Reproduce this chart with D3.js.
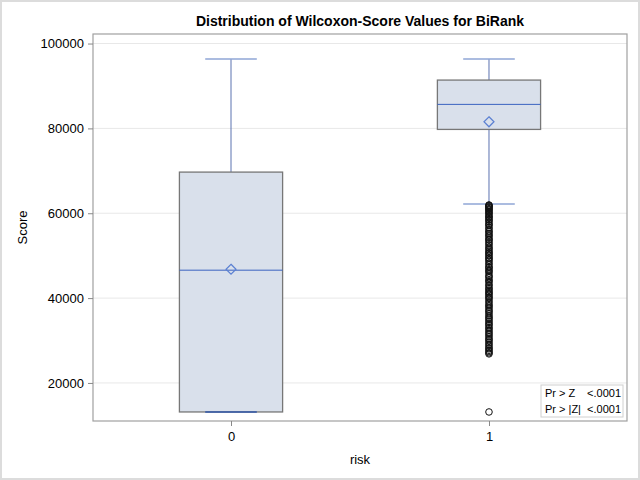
<!DOCTYPE html>
<html>
<head>
<meta charset="utf-8">
<script src="https://cdn.jsdelivr.net/npm/d3@7"></script>
<style>
  body { margin: 0; background: #fff; }
  text { font-family: "Liberation Sans", Arial, sans-serif; }
</style>
</head>
<body>
<div id="chart"></div>
<script>
// data
const categories = ["0", "1"];
const q1 = [13160, 79760];
const median = [46580, 85660];
const q3 = [69700, 91390];
const mean = [46800, 81560];
const whiskerLow = [13160, 62200];
const whiskerHigh = [96350, 96350];
const outliers1 = [
  61950, 61850, 61700, 61500, 61350, 61100, 60900, 60750, 60400, 60200,
  59950, 59700, 59300, 59150, 58900, 58500, 58350, 58000, 57600, 57300,
  57100, 56600, 56300, 55800, 55600, 55200, 54850, 54600, 54150, 53800,
  53650, 53200, 52850, 52500, 52000, 51750, 51400, 51050, 50700, 50550,
  50200, 49900, 49500, 49350, 49000, 48650, 48200, 47900, 47400, 47250,
  46900, 46500, 46300, 45900, 45350, 45100, 44800, 44300, 44050, 43700,
  43200, 42950, 42500, 42200, 41900, 41500, 41300, 41000, 40700, 40300,
  40100, 39750, 39300, 38900, 38450, 38150, 37800, 37400, 37000, 36750,
  36300, 35900, 35500, 35250, 34850, 34500, 34100, 33800, 33500, 33050,
  32800, 32400, 32000, 31650, 31300, 30900, 30500, 30200, 29900, 29450,
  29100, 28700, 28300, 28050, 27700, 27400, 27100, 26850, 13160
];
const yTicks = [20000, 40000, 60000, 80000, 100000];

const width = 640;
const height = 480;
const plot = { left: 93, right: 627, top: 34, bottom: 421 };

const svg = d3.select("#chart").append("svg").attr("width", width).attr("height", height);

// outer frame
svg.append("rect")
  .attr("x", 1).attr("y", 1).attr("width", width - 2).attr("height", height - 2)
  .attr("fill", "#fff").attr("stroke", "#dcdcdc").attr("stroke-width", 2);

const x = d3.scalePoint().domain(categories).range([plot.left, plot.right]).padding(0.535);
const y = d3.scaleLinear().domain([11030, 102250]).range([plot.bottom, plot.top]);
const boxW = x.step() * 0.4;

// gridlines
svg.append("g").selectAll("line").data(yTicks).enter().append("line")
  .attr("x1", plot.left).attr("x2", plot.right)
  .attr("y1", d => y(d)).attr("y2", d => y(d))
  .attr("stroke", "#e8e8e8").attr("stroke-width", 1);

const boxes = categories.map((c, i) => ({
  c, q1: q1[i], med: median[i], q3: q3[i], mean: mean[i], lo: whiskerLow[i], hi: whiskerHigh[i]
}));

const g = svg.append("g");

// whiskers
g.selectAll(".wh").data(boxes).enter().append("line")
  .attr("x1", d => x(d.c)).attr("x2", d => x(d.c))
  .attr("y1", d => y(d.hi)).attr("y2", d => y(d.q3))
  .attr("stroke", "#5b72b0").attr("stroke-width", 1);
g.selectAll(".wl").data(boxes).enter().append("line")
  .attr("x1", d => x(d.c)).attr("x2", d => x(d.c))
  .attr("y1", d => y(d.q1)).attr("y2", d => y(d.lo))
  .attr("stroke", "#5b72b0").attr("stroke-width", 1);

// boxes
g.selectAll(".box").data(boxes).enter().append("rect")
  .attr("x", d => x(d.c) - boxW / 2).attr("width", boxW)
  .attr("y", d => y(d.q3)).attr("height", d => y(d.q1) - y(d.q3))
  .attr("fill", "#d9e0eb").attr("stroke", "#777").attr("stroke-width", 1.3);

// caps
g.selectAll(".caph").data(boxes).enter().append("line")
  .attr("x1", d => x(d.c) - boxW / 4).attr("x2", d => x(d.c) + boxW / 4)
  .attr("y1", d => y(d.hi)).attr("y2", d => y(d.hi))
  .attr("stroke", "#8fa6d6").attr("stroke-width", 1.5);
g.selectAll(".capl").data(boxes).enter().append("line")
  .attr("x1", d => x(d.c) - boxW / 4).attr("x2", d => x(d.c) + boxW / 4)
  .attr("y1", d => y(d.lo)).attr("y2", d => y(d.lo))
  .attr("stroke", d => d.lo === d.q1 ? "#2f56a8" : "#8fa6d6").attr("stroke-width", 1.5);

// medians
g.selectAll(".med").data(boxes).enter().append("line")
  .attr("x1", d => x(d.c) - boxW / 2).attr("x2", d => x(d.c) + boxW / 2)
  .attr("y1", d => y(d.med)).attr("y2", d => y(d.med))
  .attr("stroke", "#3a62c0").attr("stroke-width", 1);

// means
g.selectAll(".mean").data(boxes).enter().append("path")
  .attr("transform", d => `translate(${x(d.c)},${y(d.mean)})`)
  .attr("d", "M0,-5L5,0L0,5L-5,0Z")
  .attr("fill", "none").attr("stroke", "#5b80d2").attr("stroke-width", 1.2);

// outliers
g.selectAll(".out").data(outliers1).enter().append("circle")
  .attr("cx", x("1")).attr("cy", d => y(d)).attr("r", 3.3)
  .attr("fill", "none").attr("stroke", "#111").attr("stroke-width", 1);

// plot frame
svg.append("rect")
  .attr("x", plot.left).attr("y", plot.top)
  .attr("width", plot.right - plot.left).attr("height", plot.bottom - plot.top)
  .attr("fill", "none").attr("stroke", "#a0a0a0").attr("stroke-width", 1.2);

// axes
const yAxis = svg.append("g").attr("transform", `translate(${plot.left},0)`)
  .call(d3.axisLeft(y).tickValues(yTicks).tickSize(5).tickPadding(4).tickFormat(d3.format("d")));
yAxis.select(".domain").remove();
yAxis.selectAll(".tick line").attr("stroke", "#888");
yAxis.selectAll(".tick text").attr("fill", "#000").style("font-size", "13px");

const xAxis = svg.append("g").attr("transform", `translate(0,${plot.bottom})`)
  .call(d3.axisBottom(x).tickSize(5).tickPadding(6));
xAxis.select(".domain").remove();
xAxis.selectAll(".tick line").attr("stroke", "#888");
xAxis.selectAll(".tick text").attr("fill", "#000").style("font-size", "13px");

// title and labels
svg.append("text")
  .attr("x", (plot.left + plot.right) / 2).attr("y", 26)
  .attr("text-anchor", "middle").style("font-size", "14px").style("font-weight", "bold")
  .text("Distribution of Wilcoxon-Score Values for BiRank");

svg.append("text")
  .attr("transform", "rotate(-90)")
  .attr("x", -(plot.top + plot.bottom) / 2).attr("y", 27)
  .attr("text-anchor", "middle").style("font-size", "13px")
  .text("Score");

svg.append("text")
  .attr("x", (plot.left + plot.right) / 2).attr("y", 464)
  .attr("text-anchor", "middle").style("font-size", "13px")
  .text("risk");

// inset table
const inset = svg.append("g").attr("transform", "translate(541,385)");
inset.append("rect").attr("width", 82).attr("height", 32)
  .attr("fill", "#fff").attr("stroke", "#d0d0d0");
const rows = [["Pr > Z", "<.0001"], ["Pr > |Z|", "<.0001"]];
inset.selectAll(".lab").data(rows).enter().append("text")
  .attr("x", 4).attr("y", (d, i) => 12 + i * 16)
  .style("font-size", "11px").text(d => d[0]);
inset.selectAll(".val").data(rows).enter().append("text")
  .attr("x", 80).attr("y", (d, i) => 12 + i * 16)
  .attr("text-anchor", "end").style("font-size", "11px").text(d => d[1]);
</script>
</body>
</html>
